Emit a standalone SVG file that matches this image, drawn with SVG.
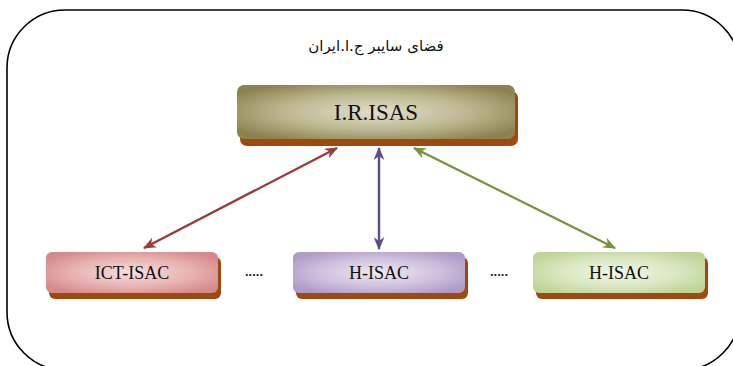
<svg xmlns="http://www.w3.org/2000/svg" width="733" height="366" viewBox="0 0 733 366">
  <style>
    .frame { fill: none; stroke: #000; stroke-width: 1.6; }
    .shadow { fill: #a0490f; }
    .label { font-family: "Liberation Serif", "Times New Roman", serif; fill: #111; text-anchor: middle; }
    .title { font-family: "DejaVu Sans", "Noto Sans", sans-serif; font-size: 15px; fill: #111; text-anchor: middle; }
    .dots { font-family: "Liberation Sans", Arial, sans-serif; font-size: 13px; font-weight: bold; fill: #222; }
    .link { fill: none; stroke-width: 2.4; }
  </style>
  <defs>
    <radialGradient id="gOlive" cx="50%" cy="50%" r="60%">
      <stop offset="0" stop-color="#e2dfcb"/>
      <stop offset="0.55" stop-color="#bdb891"/>
      <stop offset="1" stop-color="#8c8450"/>
    </radialGradient>
    <radialGradient id="gRed" cx="50%" cy="50%" r="60%">
      <stop offset="0" stop-color="#f6e0e0"/>
      <stop offset="0.6" stop-color="#e7b0b0"/>
      <stop offset="1" stop-color="#d58a8a"/>
    </radialGradient>
    <radialGradient id="gPurple" cx="50%" cy="50%" r="60%">
      <stop offset="0" stop-color="#efe9f4"/>
      <stop offset="0.6" stop-color="#cdbfdc"/>
      <stop offset="1" stop-color="#ae9bc8"/>
    </radialGradient>
    <radialGradient id="gGreen" cx="50%" cy="50%" r="60%">
      <stop offset="0" stop-color="#f2f7e9"/>
      <stop offset="0.6" stop-color="#d8e6bf"/>
      <stop offset="1" stop-color="#bfd497"/>
    </radialGradient>
    <marker id="mRed" viewBox="0 0 12 10" refX="11" refY="5" markerWidth="13" markerHeight="11" markerUnits="userSpaceOnUse" orient="auto-start-reverse">
      <path d="M0,0 L12,5 L0,10 L3.5,5 z" fill="#9b3b3b"/>
    </marker>
    <marker id="mPurple" viewBox="0 0 12 10" refX="11" refY="5" markerWidth="13" markerHeight="11" markerUnits="userSpaceOnUse" orient="auto-start-reverse">
      <path d="M0,0 L12,5 L0,10 L3.5,5 z" fill="#5f4b8b"/>
    </marker>
    <marker id="mGreen" viewBox="0 0 12 10" refX="11" refY="5" markerWidth="13" markerHeight="11" markerUnits="userSpaceOnUse" orient="auto-start-reverse">
      <path d="M0,0 L12,5 L0,10 L3.5,5 z" fill="#77933c"/>
    </marker>
  </defs>

  <!-- outer boundary -->
  <rect class="frame" x="7" y="10" width="733" height="360" rx="58" ry="58"/>
  <text class="title" x="376" y="51" direction="rtl">فضای سایبر ج.ا.ایران</text>

  <!-- connectors -->
  <g id="connectors">
    <line class="link" x1="337" y1="148" x2="144" y2="248" stroke="#9b3b3b" marker-start="url(#mRed)" marker-end="url(#mRed)"/>
    <line class="link" x1="379" y1="148" x2="379" y2="249" stroke="#5f4b8b" marker-start="url(#mPurple)" marker-end="url(#mPurple)"/>
    <line class="link" x1="414" y1="148" x2="615" y2="248" stroke="#77933c" marker-start="url(#mGreen)" marker-end="url(#mGreen)"/>
  </g>

  <g id="irisas">
    <rect class="shadow" x="240" y="91" width="278" height="55" rx="7"/>
    <rect x="237" y="85" width="278" height="54" rx="7" fill="url(#gOlive)"/>
    <text class="label" x="376" y="120" font-size="23">I.R.ISAS</text>
  </g>

  <g id="ict-isac">
    <rect class="shadow" x="49" y="257" width="172" height="42" rx="6"/>
    <rect x="46" y="252" width="172" height="41" rx="6" fill="url(#gRed)"/>
    <text class="label" x="132" y="279" font-size="18">ICT-ISAC</text>
  </g>

  <text class="dots" x="245" y="276">.....</text>

  <g id="h-isac-1">
    <rect class="shadow" x="296" y="257" width="172" height="42" rx="6"/>
    <rect x="293" y="252" width="172" height="41" rx="6" fill="url(#gPurple)"/>
    <text class="label" x="379" y="279" font-size="18">H-ISAC</text>
  </g>

  <text class="dots" x="490" y="276">.....</text>

  <g id="h-isac-2">
    <rect class="shadow" x="536" y="257" width="172" height="42" rx="6"/>
    <rect x="533" y="252" width="172" height="41" rx="6" fill="url(#gGreen)"/>
    <text class="label" x="619" y="279" font-size="18">H-ISAC</text>
  </g>
</svg>
